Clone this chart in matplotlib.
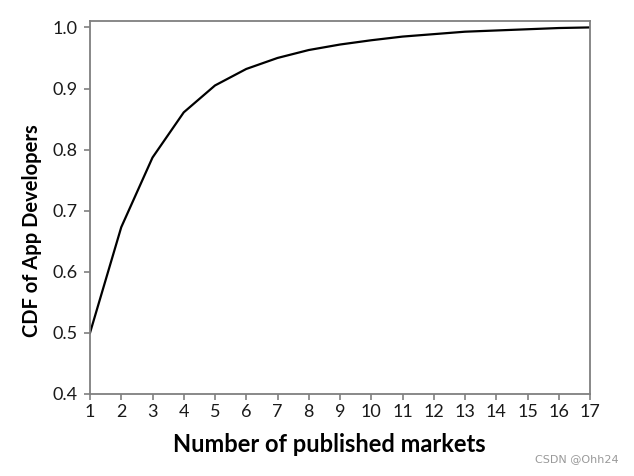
import matplotlib
matplotlib.use("Agg")
import matplotlib.pyplot as plt

markets = list(range(1, 18))
cdf = [0.500, 0.673, 0.787, 0.861, 0.905, 0.932, 0.950, 0.963, 0.972, 0.979,
       0.985, 0.989, 0.993, 0.995, 0.997, 0.999, 1.000]
yticks = [0.4, 0.5, 0.6, 0.7, 0.8, 0.9, 1.0]

plt.rcParams['font.family'] = ['Lato', 'DejaVu Sans']

W, H = 634, 476
fig = plt.figure(figsize=(W / 100, H / 100), dpi=100)
ax = fig.add_axes([90 / W, 1 - 394 / H, 500 / W, (394 - 20.7) / H])

ax.plot(markets, cdf, color='black', linewidth=1.6)
ax.set_xlim(1, 17)
ax.set_ylim(0.4, 1.011)
ax.set_xticks(markets)
ax.set_yticks(yticks)
ax.set_yticklabels([f"{v:.1f}" for v in yticks])

for s in ax.spines.values():
    s.set_color('#7f7f7f')
    s.set_linewidth(1.3)
ax.tick_params(axis='both', direction='out', length=4, width=1.2, color='#7f7f7f',
               labelsize=13, labelcolor='#1a1a1a')
ax.tick_params(axis='x', pad=3)
ax.tick_params(axis='y', pad=5)

fig.text(329 / W, 1 - 444 / H, 'Number of published markets', fontsize=17,
         fontweight='bold', ha='center', va='center')
fig.text(32 / W, 1 - 230.5 / H, 'CDF of App Developers', fontsize=14.5,
         fontweight='bold', ha='center', va='center', rotation=90)

fig.text(0.975, 0.025, 'CSDN @Ohh24', fontsize=8, color='#999999', ha='right', va='bottom',
         family='DejaVu Sans')

fig.savefig('out.png', dpi=100)
